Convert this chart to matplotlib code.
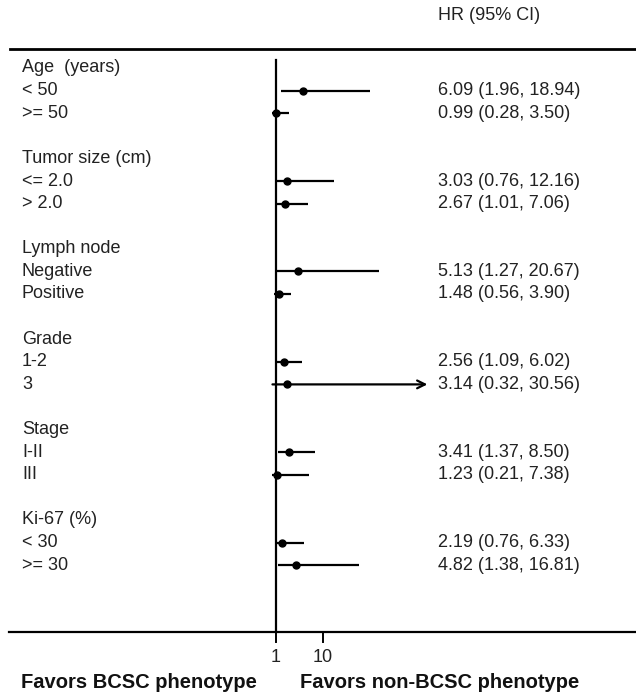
import matplotlib
matplotlib.use("Agg")
import matplotlib.pyplot as plt

plt.rcParams['font.family'] = ['Liberation Sans', 'DejaVu Sans']

# data
groups = ["Age  (years)", "Tumor size (cm)", "Lymph node", "Grade", "Stage", "Ki-67 (%)"]
subgroups = [["< 50", ">= 50"], ["<= 2.0", "> 2.0"], ["Negative", "Positive"],
             ["1-2", "3"], ["I-II", "III"], ["< 30", ">= 30"]]
hr = [6.09, 0.99, 3.03, 2.67, 5.13, 1.48, 2.56, 3.14, 3.41, 1.23, 2.19, 4.82]
lo = [1.96, 0.28, 0.76, 1.01, 1.27, 0.56, 1.09, 0.32, 1.37, 0.21, 0.76, 1.38]
hi = [18.94, 3.50, 12.16, 7.06, 20.67, 3.90, 6.02, 30.56, 8.50, 7.38, 6.33, 16.81]
xticks = [1, 10]
clip = 30  # ci drawn as arrow beyond this

W, H = 636, 694
fig = plt.figure(figsize=(W / 100, H / 100), dpi=100)
ax = fig.add_axes([0, 0, 1, 1])
ax.axis('off')

# scale: 1 at x=276px, 5.22 px per unit; rows 22.6 px apart, first at 68px
ppu = 5.22
ax.set_xlim(1 - 276 / ppu, 1 + (W - 276) / ppu)
ax.set_ylim((H - 68) / 22.6, -68 / 22.6)

def xp(px):
    return 1 + (px - 276) / ppu

def yp(py):
    return (py - 68) / 22.6

txt = dict(fontsize=13, color='#222222', va='center')
ax.text(xp(438), yp(16), "HR (95% CI)", **txt)

row = 0
k = 0
for g, subs in zip(groups, subgroups):
    ax.text(xp(22), row, g, **txt)
    row += 1
    for s in subs:
        ax.text(xp(22), row, s, **txt)
        ax.text(xp(438), row, "%.2f (%.2f, %.2f)" % (hr[k], lo[k], hi[k]), **txt)
        if hi[k] > clip:
            ax.annotate("", xy=(clip, row), xytext=(lo[k], row),
                        arrowprops=dict(arrowstyle='->', lw=1.6, color='black',
                                        mutation_scale=14, shrinkA=0, shrinkB=0))
        else:
            ax.plot([lo[k], hi[k]], [row, row], color='black', lw=1.6,
                    solid_capstyle='butt')
        ax.plot(hr[k], row, 'o', color='black', ms=5)
        row += 1
        k += 1
    row += 1

# frame lines
ax.plot([xp(10), xp(W)], [yp(49), yp(49)], color='black', lw=2)
ax.plot([xp(9), xp(W)], [yp(632), yp(632)], color='black', lw=1.6)
ax.plot([1, 1], [yp(60), yp(632)], color='black', lw=1.6)
for t in xticks:
    ax.plot([t, t], [yp(632), yp(642)], color='black', lw=1.4)
    ax.text(t, yp(658), str(t), fontsize=13, color='#222222', ha='center', va='center')

ax.text(xp(21), yp(683), "Favors BCSC phenotype", fontsize=14.5, fontweight='bold',
        color='#111111', va='center')
ax.text(xp(300), yp(683), "Favors non-BCSC phenotype", fontsize=14.5, fontweight='bold',
        color='#111111', va='center')

fig.savefig("out.png", dpi=100)
